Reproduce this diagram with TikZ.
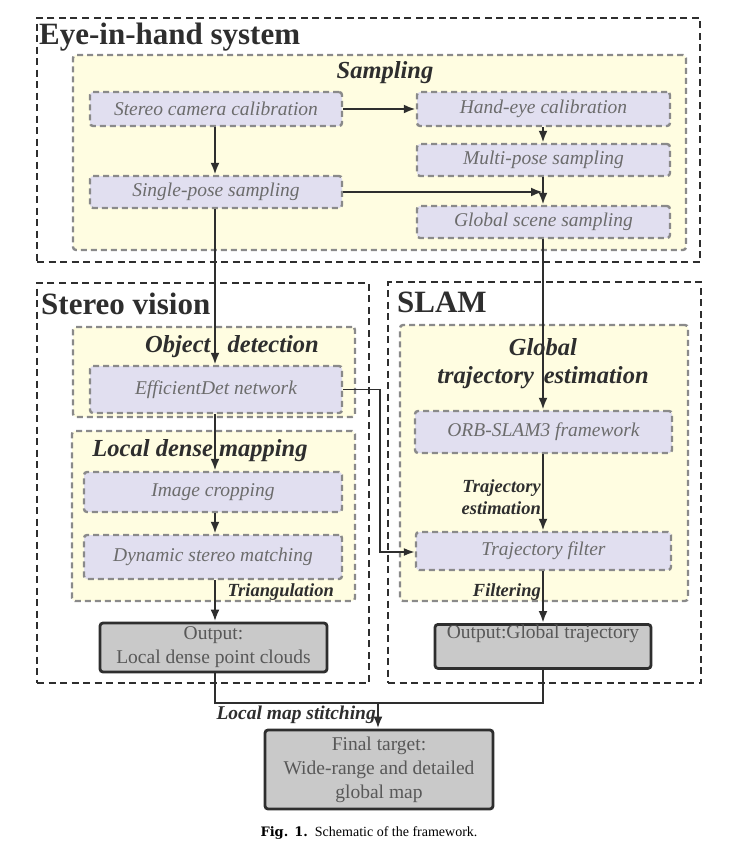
\documentclass[tikz,border=0pt]{standalone}
\usepackage{fontspec}
\setmainfont{Liberation Serif}
\usetikzlibrary{arrows.meta}
\definecolor{yel}{HTML}{FFFDE1}
\definecolor{lav}{HTML}{E1DFF0}
\definecolor{dgray}{HTML}{8A8A8A}
\definecolor{tgray}{HTML}{6C6C6C}
\definecolor{ink}{HTML}{2E2E2E}
\definecolor{outfill}{HTML}{C9C9C9}
\tikzset{
  outer/.style={draw=ink, line width=2.8pt, dash pattern=on 7pt off 4.5pt},
  cont/.style={draw=dgray, fill=yel, line width=2.4pt, dash pattern=on 6pt off 4pt, rounded corners=3pt},
  proc/.style={draw=dgray, fill=lav, line width=2.4pt, dash pattern=on 6pt off 4pt, rounded corners=3pt,
     font=\fontsize{19.5}{22}\selectfont\itshape, text=tgray, inner sep=0pt},
  outbox/.style={draw=ink, fill=outfill, line width=2.8pt, rounded corners=3pt,
     font=\fontsize{19.5}{24}\selectfont, text=ink!80, align=center, inner sep=0pt},
  bigtitle/.style={font=\fontsize{31}{34}\selectfont\bfseries, text=ink, anchor=west, inner sep=0pt},
  ctitle/.style={font=\fontsize{24.5}{28}\selectfont\bfseries\itshape, text=ink, inner sep=0pt, align=center},
  lbl/.style={font=\fontsize{18.5}{22}\selectfont\bfseries\itshape, text=ink, inner sep=0pt},
  arr/.style={draw=ink, line width=2.6pt, -{Latex[length=12pt,width=9pt]}},
  thinarr/.style={draw=ink, line width=1.8pt, -{Latex[length=11pt,width=8pt]}},
  ln/.style={draw=ink, line width=2.6pt}
}
\begin{document}
\begin{tikzpicture}[x=1pt,y=-1pt]
\useasboundingbox (0,0) rectangle (742,860);
% outer boxes
\node[outer, minimum width=663pt, minimum height=244pt] (eye) at (368.5,140) {};
\node[outer, minimum width=332pt, minimum height=400pt] (sv) at (203,483) {};
\node[outer, minimum width=313pt, minimum height=401pt] (slam) at (544.5,482.5) {};
\node[bigtitle] (eyet) at (39,37) {Eye-in-hand system};
\node[bigtitle] (svt) at (41,304) {Stereo vision};
\node[bigtitle] (slamt) at (397,302) {SLAM};
% containers
\node[cont, minimum width=613pt, minimum height=195pt] (samp) at (379.5,152.5) {};
\node[ctitle] (sampt) at (385,73) {Sampling};
\node[cont, minimum width=282pt, minimum height=90pt] (od) at (214,372) {};
\node[ctitle] (odt) at (232,347) {Object\hspace{0.7em}detection};
\node[cont, minimum width=283pt, minimum height=170pt] (ldm) at (213.5,516) {};
\node[ctitle] (ldmt) at (200,451) {Local dense mapping};
\node[cont, minimum width=288pt, minimum height=276pt] (gte) at (544,463) {};
\node[ctitle] (gtet) at (543,364) {Global\\trajectory\hspace{0.4em}estimation};
% process boxes
\node[proc, minimum width=252pt, minimum height=34pt] (scc) at (216,109) {Stereo camera calibration};
\node[proc, minimum width=253pt, minimum height=34pt] (hec) at (543.5,109) {Hand-eye calibration};
\node[proc, minimum width=253pt, minimum height=32pt] (mps) at (543.5,160) {Multi-pose sampling};
\node[proc, minimum width=252pt, minimum height=32pt] (sps) at (216,192) {Single-pose sampling};
\node[proc, minimum width=253pt, minimum height=32pt] (gss) at (543.5,222) {Global scene sampling};
\node[proc, minimum width=252pt, minimum height=47pt] (edn) at (216,389.5) {EfficientDet network};
\node[proc, minimum width=258pt, minimum height=40pt] (icr) at (213,492) {Image cropping};
\node[proc, minimum width=258pt, minimum height=44pt] (dsm) at (213,557) {Dynamic stereo matching};
\node[proc, minimum width=257pt, minimum height=42pt] (orb) at (543.5,432) {ORB-SLAM3 framework};
\node[proc, minimum width=255pt, minimum height=38pt] (tf) at (543.5,551) {Trajectory filter};
% output boxes
\node[outbox, minimum width=227pt, minimum height=49pt] (outl) at (213.5,647.5) {Output:\\Local dense point clouds};
\node[outbox, minimum width=216pt, minimum height=44pt, anchor=north] (outg) at (543,623) {};
\node[font=\fontsize{19.5}{24}\selectfont, text=ink!80, inner sep=0pt] (outgt) at (543,634) {Output:Global trajectory};
\node[outbox, minimum width=228pt, minimum height=79pt] (fin) at (379,769.5) {Final target:\\Wide-range and detailed\\global map};
% labels
\node[lbl, anchor=east] (tri) at (334,592) {Triangulation};
\node[lbl, anchor=east, align=right] (te) at (541,497) {Trajectory\\estimation};
\node[lbl, anchor=east] (fil) at (541,592) {Filtering};
\node[lbl, font=\fontsize{19.5}{22}\selectfont\bfseries\itshape, anchor=east] (lms) at (376,715) {Local map stitching};
\coordinate (j) at (378,703);
% connectors
\draw[arr] (scc.east) -- (hec.west);
\draw[arr] (scc.south -| 215,0) -- (215,0 |- sps.north);
\draw[arr] (hec.south -| 543,0) -- (543,0 |- mps.north);
\draw[arr] (mps.south -| 543,0) -- (543,0 |- gss.north);
\draw[arr] (sps.east) -- (sps.east -| 543,0);
\draw[arr] (sps.south -| 215,0) -- (215,0 |- edn.north);
\draw[arr] (edn.south -| 215,0) -- (215,0 |- icr.north);
\draw[arr] (icr.south -| 215,0) -- (215,0 |- dsm.north);
\draw[arr] (dsm.south -| 215,0) -- (215,0 |- outl.north);
\draw[arr] (gss.south -| 543,0) -- (543,0 |- orb.north);
\draw[arr] (orb.south -| 543,0) -- (543,0 |- tf.north);
\draw[arr] (tf.south -| 543,0) -- (543,0 |- outg.north);
\draw[thinarr] (edn.east) -- (380,389.5) -- (380,552) -- (tf.west |- 0,552);
\draw[ln] (outl.south -| 215,0) -- (215,703) -- (543,703) -- (543,0 |- outg.south);
\draw[arr] (j) -- (j |- fin.north);
% caption
\node[inner sep=0pt, font=\fontsize{14}{16}\selectfont] (cap) at (369,833) {\textbf{\fontspec{DejaVu Serif}\fontsize{13}{16}\selectfont Fig. 1.}\enspace Schematic of the framework.};
\end{tikzpicture}
\end{document}
